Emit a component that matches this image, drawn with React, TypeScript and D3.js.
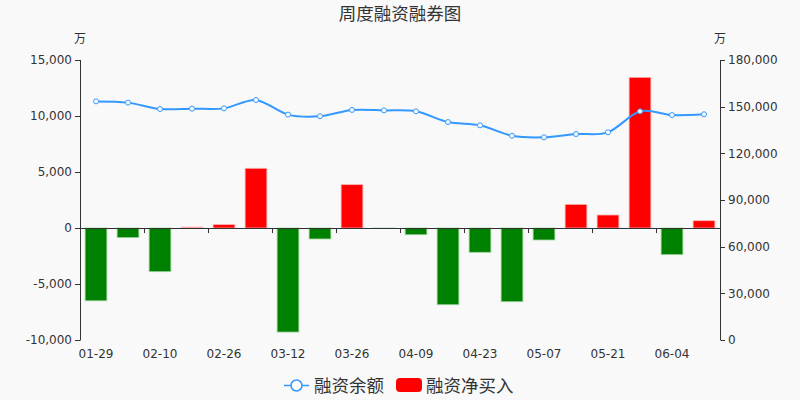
import React from "react";
import * as d3 from "d3";

const categories = [
  "01-29", "02-05", "02-10", "02-19", "02-26", "03-05", "03-12", "03-19", "03-26", "04-02",
  "04-09", "04-16", "04-23", "04-30", "05-07", "05-14", "05-21", "05-28", "06-04", "06-11",
];
const netBuy = [
  -6500, -860, -3900, 80, 300, 5330, -9290, -980, 3870, -50,
  -600, -6850, -2170, -6580, -1070, 2110, 1160, 13450, -2380, 650,
];
const balance = [
  153400, 152600, 148500, 148700, 148900, 154300, 144900, 143800, 147900, 147600,
  147000, 140100, 138000, 131300, 130300, 132400, 133500, 147000, 144600, 145100,
];
const leftTicks = [-10000, -5000, 0, 5000, 10000, 15000];
const rightTicks = [0, 30000, 60000, 90000, 120000, 150000, 180000];
const labelIdx = [0, 2, 4, 6, 8, 10, 12, 14, 16, 18];

const W = 800, H = 400;
const L = 80, R = 720, T = 60, B = 340;
const FONT = "'DejaVu Sans', 'Noto Sans CJK SC', sans-serif";

export default function App() {
  const x = d3.scaleBand<string>().domain(categories).range([L, R]).paddingInner(0).paddingOuter(0);
  const yL = d3.scaleLinear().domain([-10000, 15000]).range([B, T]);
  const yR = d3.scaleLinear().domain([0, 180000]).range([B, T]);
  const bw = x.bandwidth();
  const barW = bw * 0.68;
  const cx = (c: string) => (x(c) as number) + bw / 2;
  const line = d3
    .line<number>()
    .x((_, i) => cx(categories[i]))
    .y((d) => yR(d))
    .curve(d3.curveCardinal.tension(0.1));
  const fmt = d3.formatLocale({ decimal: ".", thousands: ",", grouping: [3], currency: ["", ""], minus: "-" }).format(",");
  const zero = yL(0);

  return (
    <div style={{ position: "absolute", left: 0, top: 0 }}>
      <svg width={W} height={H} style={{ display: "block", fontFamily: FONT }}>
        <rect x={0} y={0} width={W} height={H} fill="#f9f9f9" />
        <text x={400} y={20} textAnchor="middle" fontSize={17.5} fill="#333">周度融资融券图</text>
        <text x={80} y={43} textAnchor="middle" fontSize={12} fill="#333">万</text>
        <text x={720} y={43} textAnchor="middle" fontSize={12} fill="#333">万</text>

        {netBuy.map((v, i) => {
          const c = categories[i];
          const y0 = Math.min(yL(v), zero);
          const h = Math.abs(yL(v) - zero);
          const col = v >= 0 ? "#ff0000" : "#008000";
          return (
            <rect key={c} x={cx(c) - barW / 2} y={y0} width={barW} height={Math.max(h, 0.6)}
              fill={col} stroke={v >= 0 ? "#ffb0b0" : "#9fd49f"} strokeWidth={0.8} />
          );
        })}

        {/* left axis */}
        <line x1={L + 0.5} x2={L + 0.5} y1={T} y2={B} stroke="#333" />
        {leftTicks.map((t) => (
          <g key={t}>
            <line x1={L - 5} x2={L + 0.5} y1={Math.round(yL(t)) + 0.5} y2={Math.round(yL(t)) + 0.5} stroke="#333" />
            <text x={L - 8} y={yL(t)} dy="0.35em" textAnchor="end" fontSize={12} fill="#333">{fmt(t)}</text>
          </g>
        ))}
        {/* right axis */}
        <line x1={R + 0.5} x2={R + 0.5} y1={T} y2={B} stroke="#333" />
        {rightTicks.map((t) => (
          <g key={t}>
            <line x1={R + 0.5} x2={R + 5} y1={Math.round(yR(t)) + 0.5} y2={Math.round(yR(t)) + 0.5} stroke="#333" />
            <text x={R + 8} y={yR(t)} dy="0.35em" textAnchor="start" fontSize={12} fill="#333">{fmt(t)}</text>
          </g>
        ))}
        {/* x axis at zero */}
        <line x1={L} x2={R} y1={Math.round(zero) + 0.5} y2={Math.round(zero) + 0.5} stroke="#333" />
        {labelIdx.map((i) => {
          const c = categories[i];
          const tx = Math.round(x(c) as number) + 0.5;
          return (
            <g key={c}>
              {i > 0 && <line x1={tx} x2={tx} y1={zero} y2={zero + 5} stroke="#333" />}
              <text x={cx(c)} y={358} textAnchor="middle" fontSize={12} fill="#333">{c}</text>
            </g>
          );
        })}

        <path d={line(balance) || ""} fill="none" stroke="#3398ff" strokeWidth={2} />
        {balance.map((v, i) => (
          <circle key={i} cx={cx(categories[i])} cy={yR(v)} r={2.5} fill="#fff" stroke="#3398ff" strokeWidth={1} />
        ))}

        {/* legend */}
        <line x1={284} x2={309} y1={385.5} y2={385.5} stroke="#3398ff" strokeWidth={1.5} />
        <circle cx={296.5} cy={385.5} r={5.5} fill="#fff" stroke="#3398ff" strokeWidth={1.5} />
        <text x={314} y={385.5} dy="0.36em" fontSize={17.5} fill="#333">融资余额</text>
        <rect x={396} y={378} width={26} height={14} rx={4} fill="#ff0000" />
        <text x={426} y={385.5} dy="0.36em" fontSize={17.5} fill="#333">融资净买入</text>
      </svg>
    </div>
  );
}
